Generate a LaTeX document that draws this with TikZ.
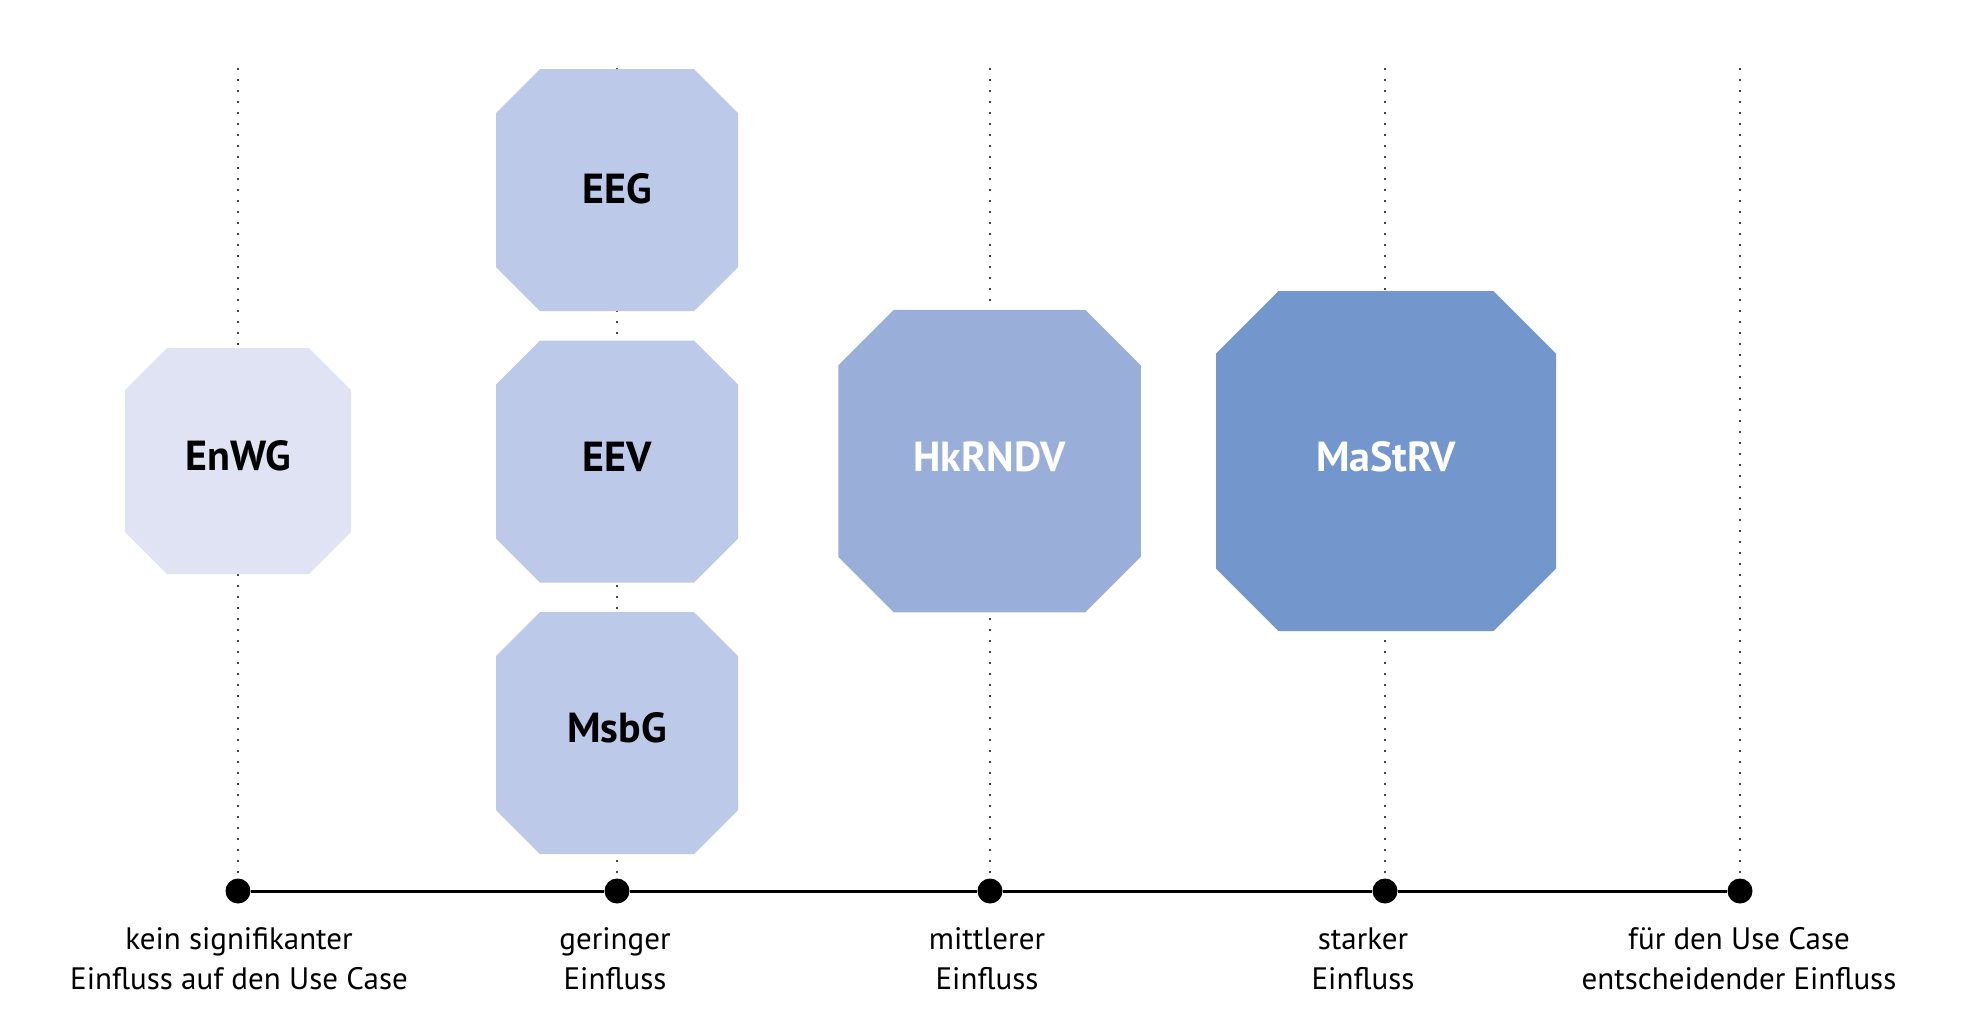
\documentclass[tikz,border=0pt]{standalone}
\usepackage{fontspec}
\setmainfont{PT Sans}
\definecolor{cA}{HTML}{DFE3F3}
\definecolor{cB}{HTML}{BCC9E9}
\definecolor{cC}{HTML}{99AFDA}
\definecolor{cD}{HTML}{7396CD}
\tikzset{
  octlbl/.style={anchor=base, inner sep=0pt,
    font=\fontsize{21}{24}\selectfont\bfseries},
  axisdot/.style={circle, fill=black, inner sep=0pt, minimum size=12.5pt},
  guide/.style={line width=1.1pt, line cap=round, dash pattern=on 0pt off 5.5pt},
  scalelbl/.style={align=center, anchor=north, inner sep=0pt,
    font=\fontsize{15.5}{20}\selectfont},
}
% #1 name, #2 cx, #3 cy, #4 half size, #5 chamfer, #6 fill, #7 text colour, #8 text, #9 baseline offset
\newcommand\octobox[9]{%
  \fill[#6] ({#2-#4+#5},{#3-#4}) -- ({#2+#4-#5},{#3-#4}) -- ({#2+#4},{#3-#4+#5})
    -- ({#2+#4},{#3+#4-#5}) -- ({#2+#4-#5},{#3+#4}) -- ({#2-#4+#5},{#3+#4})
    -- ({#2-#4},{#3+#4-#5}) -- ({#2-#4},{#3-#4+#5}) -- cycle;
  \node[octlbl, text=#7] (#1) at (#2,{#3+#9}) {#8};%
}
\begin{document}
\begin{tikzpicture}[x=0.5pt,y=-0.5pt]
\useasboundingbox (0,0) rectangle (1978,1009);
% axis dots
\node[axisdot] (d1) at (238,891) {};
\node[axisdot] (d2) at (617,891) {};
\node[axisdot] (d3) at (990,891) {};
\node[axisdot] (d4) at (1385,891) {};
\node[axisdot] (d5) at (1740,891) {};
% guide tops
\coordinate (t1) at (238,69);
\coordinate (t2) at (617,69);
\coordinate (t3) at (990,69);
\coordinate (t4) at (1385,69);
\coordinate (t5) at (1740,69);
\foreach \i in {1,...,5} \draw[guide] (t\i) -- (d\i);
\draw[line width=1.5pt] (d1) -- (d2) -- (d3) -- (d4) -- (d5);
% octagons
\octobox{enwg}{238}{461}{113}{42}{cA}{black}{EnWG}{9}
\octobox{eeg}{617}{190}{121}{44}{cB}{black}{EEG}{13}
\octobox{eev}{617}{461.5}{121}{44}{cB}{black}{EEV}{9.5}
\octobox{msbg}{617}{733}{121}{44}{cB}{black}{MsbG}{9.5}
\octobox{hk}{989.5}{461}{151.25}{55.5}{cC}{white}{HkRNDV}{10.5}
\octobox{ma}{1386}{461}{170}{62.5}{cD}{white}{MaStRV}{10.5}
% labels
\node[scalelbl] (l1) at (239,927) {kein signifikanter\\Einfluss auf den Use Case};
\node[scalelbl] (l2) at (615,927) {geringer\\Einfluss};
\node[scalelbl] (l3) at (987,927) {mittlerer\\Einfluss};
\node[scalelbl] (l4) at (1363,927) {starker\\Einfluss};
\node[scalelbl] (l5) at (1739,927) {für den Use Case\\entscheidender Einfluss};
\end{tikzpicture}
\end{document}
